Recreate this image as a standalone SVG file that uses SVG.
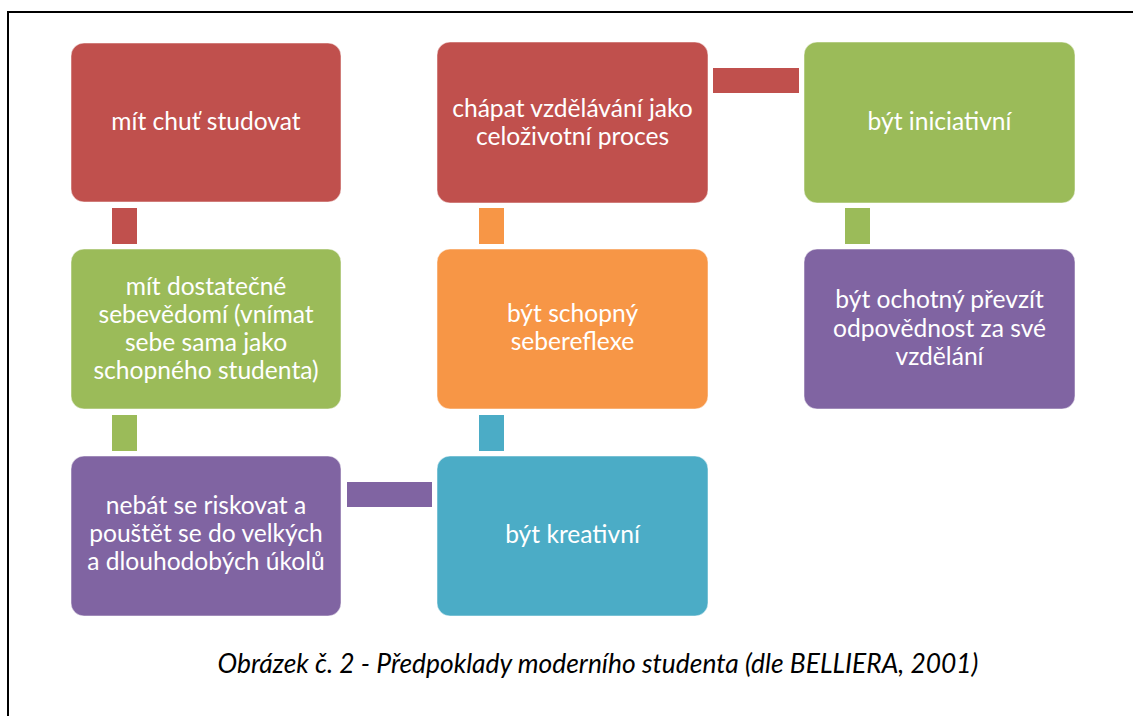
<svg xmlns="http://www.w3.org/2000/svg" width="1133" height="716" viewBox="0 0 1133 716">
<style>
.box{stroke:#ffffff;stroke-opacity:0.5;stroke-width:1}
.red{fill:#C0504D}.green{fill:#9BBB59}.purple{fill:#8064A2}.orange{fill:#F79646}.blue{fill:#4BACC6}
.t{font-family:Lato,"Liberation Sans",sans-serif;font-size:24.6px;fill:#ffffff;text-anchor:middle}
.cap{font-family:Lato,"Liberation Sans",sans-serif;font-size:26.4px;font-style:italic;fill:#000000;text-anchor:middle}
</style>
<rect x="0" y="0" width="1133" height="716" fill="#ffffff"/>
<path d="M8 716 V12 H1133" fill="none" stroke="#000000" stroke-width="2"/>
<g id="connectors">
<rect class="red" x="112" y="208" width="25" height="36"/>
<rect class="green" x="112" y="415" width="25" height="36"/>
<rect class="purple" x="347" y="482" width="85" height="25"/>
<rect class="blue" x="479" y="415" width="25" height="36"/>
<rect class="orange" x="479" y="208" width="25" height="36"/>
<rect class="red" x="713" y="68" width="86" height="25"/>
<rect class="green" x="845" y="208" width="25" height="36"/>
</g>
<g id="n1"><rect class="box red" x="71" y="43" width="270" height="159" rx="13"/>
<text class="t" x="206" y="130">mít chuť studovat</text></g>
<g id="n2"><rect class="box green" x="71" y="249" width="270" height="160" rx="13"/>
<text class="t" x="206" y="295">mít dostatečné</text>
<text class="t" x="206" y="323">sebevědomí (vnímat</text>
<text class="t" x="206" y="351">sebe sama jako</text>
<text class="t" x="206" y="379">schopného studenta)</text></g>
<g id="n3"><rect class="box purple" x="71" y="456" width="270" height="160" rx="13"/>
<text class="t" x="206" y="514">nebát se riskovat a</text>
<text class="t" x="206" y="542">pouštět se do velkých</text>
<text class="t" x="206" y="570">a dlouhodobých úkolů</text></g>
<g id="n4"><rect class="box blue" x="437" y="456" width="271" height="160" rx="13"/>
<text class="t" x="572.5" y="543">být kreativní</text></g>
<g id="n5"><rect class="box orange" x="437" y="249" width="271" height="160" rx="13"/>
<text class="t" x="572.5" y="322">být schopný</text>
<text class="t" x="572.5" y="350">sebereflexe</text></g>
<g id="n6"><rect class="box red" x="437" y="42" width="271" height="161" rx="13"/>
<text class="t" x="572.5" y="117">chápat vzdělávání jako</text>
<text class="t" x="572.5" y="145">celoživotní proces</text></g>
<g id="n7"><rect class="box green" x="804" y="42" width="271" height="161" rx="13"/>
<text class="t" x="939.5" y="130">být iniciativní</text></g>
<g id="n8"><rect class="box purple" x="804" y="249" width="271" height="160" rx="13"/>
<text class="t" x="939.5" y="308">být ochotný převzít</text>
<text class="t" x="939.5" y="337">odpovědnost za své</text>
<text class="t" x="939.5" y="365">vzdělání</text></g>
<text class="cap" x="598" y="673">Obrázek č. 2 - Předpoklady moderního studenta (dle BELLIERA, 2001)</text>
</svg>
